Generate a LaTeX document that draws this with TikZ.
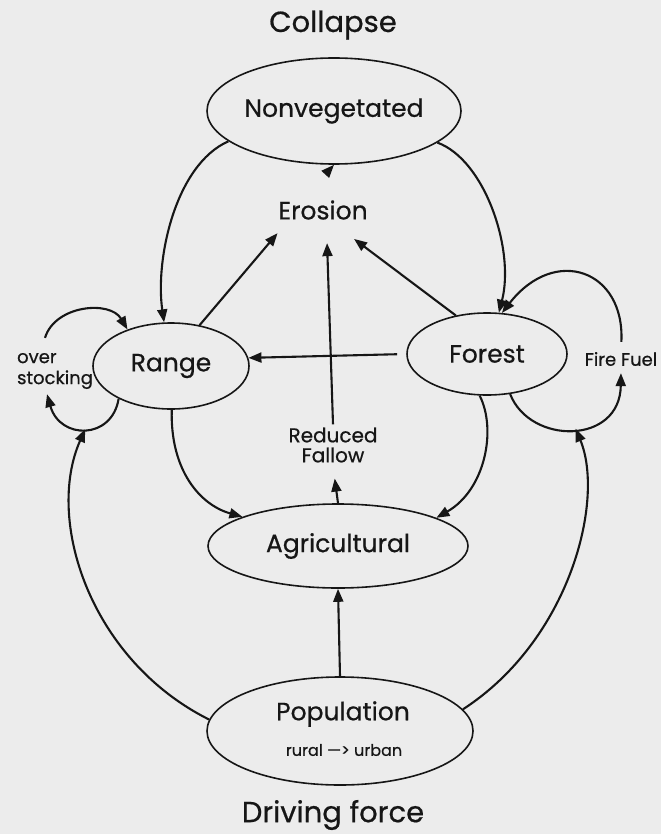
\documentclass[tikz,border=0pt]{standalone}
\usepackage{fontspec}
\setmainfont{Poppins}[FakeBold=0.6]
\usetikzlibrary{arrows.meta,shapes.geometric}
\definecolor{paper}{RGB}{236,236,236}
\definecolor{ink}{RGB}{22,22,22}
\newcommand{\fsz}[1]{\fontsize{#1}{#1}\selectfont}
\begin{document}
\begin{tikzpicture}[x=1pt,y=-1pt,
  state/.style={ellipse,draw=ink,line width=1.6pt,inner sep=0pt,text=ink,font=\fsz{25}},
  lbl/.style={text=ink,inner sep=3pt},
  link/.style={draw=ink,line width=2.1pt,-{Triangle[length=13pt,width=10pt]}},
]
\fill[paper] (0,0) rectangle (661,834);
\useasboundingbox (0,0) rectangle (661,834);

% titles
\node[lbl,font=\fsz{29}] (collapse) at (333,25) {Collapse};
\node[lbl,font=\fsz{29}] (driving) at (333,815) {Driving force};

% states
\node[state,minimum width=254pt,minimum height=106pt] (nonveg) at (334,111) {Nonvegetated};
\node[ellipse,inner sep=0pt,minimum width=124pt,minimum height=66pt,text=ink,font=\fsz{25}] (erosion) at (323,210) {Erosion};
\node[state,minimum width=156pt,minimum height=86pt] (range) at (171,366) {Range};
\node[state,minimum width=160pt,minimum height=82pt] (forest) at (487,354) {Forest};
\node[state,minimum width=260pt,minimum height=84pt] (agri) at (338,546) {Agricultural};
\node[state,minimum width=266pt,minimum height=108pt] (pop) at (340,731) {};
\node[lbl,font=\fsz{25}] (poptxt) at (343,714) {Population};
\node[lbl,font=\fsz{16}] (rural) at (344,750) {rural —> urban};

% side labels
\node[lbl,font=\fsz{18}] (firefuel) at (621,359) {Fire Fuel};
\node[lbl,align=left,font=\fontsize{18}{21}\selectfont] (overstock) at (55,371) {over\\stocking};
\node[lbl,align=center,font=\fontsize{20}{20}\selectfont] (fallow) at (333,445) {Reduced\\Fallow};

% straight links
\draw[link,shorten <=13pt] (erosion.north) -- (nonveg.south);
\draw[link] (range.55) -- (erosion.-153);
\draw[link] (fallow.north) -- (erosion.-83);
\draw[link] (forest.129) -- (erosion.-43);
\draw[link,shorten <=9pt] (forest.west) -- (range.6);
\draw[link,shorten >=13pt] (agri.north) -- (fallow.south);
\draw[link] (pop.north) -- (agri.south);

% collapse loops
\draw[link] (nonveg.196) .. controls (175,165) and (155,260) .. (range.99);
\draw[link] (nonveg.-17) .. controls (485,160) and (515,250) .. (forest.74);

% fire fuel loop
\draw[link,shorten <=7pt] (firefuel.north) .. controls (625,270) and (555,245) .. (forest.70);
\draw[link,shorten >=4pt] (forest.-60) .. controls (530,445) and (620,445) .. (firefuel.south) coordinate[pos=0.52] (ffj);

% over stocking loop
\draw[link] ([xshift=-10pt,yshift=12pt]overstock.north) .. controls (55,305) and (110,300) .. (range.140);
\draw[link] (range.-148) .. controls (112,440) and (60,440) .. ([xshift=-8pt,yshift=-2pt]overstock.south) coordinate[pos=0.5] (osj);

% land use feeding agriculture
\draw[link] (range.-89) .. controls (170,470) and (200,505) .. (agri.163);
\draw[link] (forest.-100) .. controls (497,430) and (485,490) .. (agri.16);

% population pressure
\draw[link] (pop.175) .. controls (90,660) and (45,520) .. (osj);
\draw[link] (pop.10) .. controls (570,640) and (605,500) .. (ffj);
\end{tikzpicture}
\end{document}
